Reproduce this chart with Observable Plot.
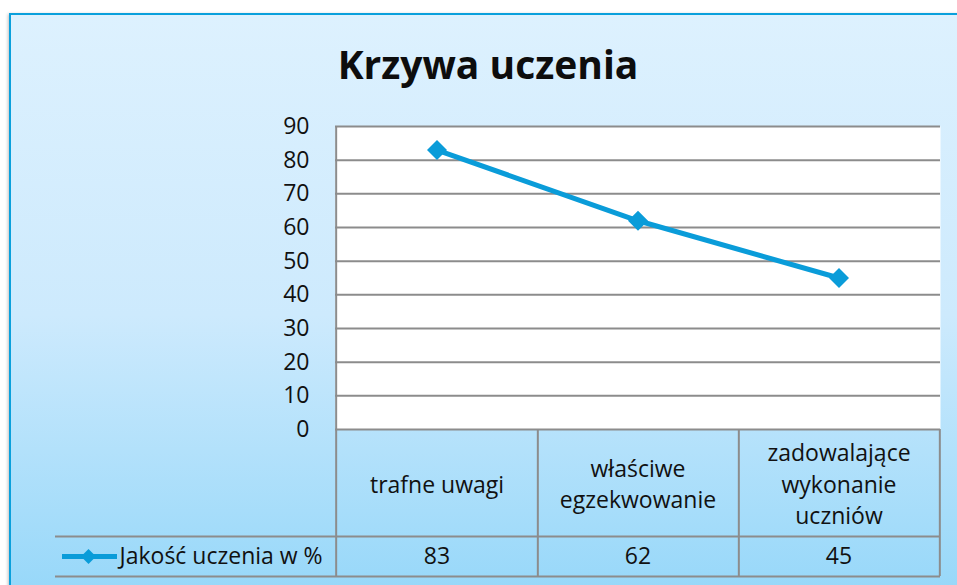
<!DOCTYPE html>
<html>
<head>
<meta charset="utf-8">
<script src="https://cdn.jsdelivr.net/npm/d3@7"></script>
<script src="https://cdn.jsdelivr.net/npm/@observablehq/plot@0.6"></script>
<style>
  html, body { margin: 0; padding: 0; background: #ffffff; }
  body { width: 957px; height: 585px; overflow: hidden; position: relative; font-family: "Open Sans", sans-serif; }
  #frame { position: absolute; left: 9px; top: 13px; width: 1000px; height: 640px; box-sizing: border-box;
    border: 2px solid #0aa0dc; background: linear-gradient(to bottom, #ddf1fe 0px, #cdeafd 300px, #98d8f9 572px);
    box-shadow: -1px 1px 3px rgba(0,0,0,0.25); }
  #title { position: absolute; left: 488px; top: 38px; transform: translateX(-50%); white-space: nowrap;
    font-family: "Open Sans", sans-serif; font-weight: 700; font-size: 39px; color: #0d0d0d; line-height: 52px; }
  #chart { position: absolute; left: 0; top: 0; }
</style>
</head>
<body>
<div id="frame"></div>
<div id="title">Krzywa uczenia</div>
<div id="chart"></div>
<script>
// ---- data ----
const categories = ["trafne uwagi", "właściwe egzekwowanie", "zadowalające wykonanie uczniów"];
const categoryLabels = ["trafne uwagi", "właściwe\negzekwowanie", "zadowalające\nwykonanie\nuczniów"];
const values = [83, 62, 45];
const seriesName = "Jakość uczenia w %";
const yTicks = [0, 10, 20, 30, 40, 50, 60, 70, 80, 90];

// ---- layout ----
const W = 957, H = 585;
const mTop = 126, mBottom = H - 429, mLeft = 335, mRight = W - 940;
const yRange = [H - mBottom, mTop];
const yS = d3.scaleLinear().domain([0, 90]).range(yRange);
const yRowTop = yS.invert(536);
const yRowBot = yS.invert(576);
const yRowMid = yS.invert(556);
const half = (W - mLeft - mRight) / categories.length / 2;
const blue = "#0a9cd9";
const gridColor = "#8c8c8c";
const fs = 23;
const labelOf = new Map(categories.map((c, i) => [c, categoryLabels[i]]));
const data = categories.map((c, i) => ({cat: c, value: values[i]}));

const diamond = {
  draw(ctx, size) {
    const r = Math.sqrt(size / Math.PI);
    ctx.moveTo(0, -r); ctx.lineTo(r, 0); ctx.lineTo(0, r); ctx.lineTo(-r, 0); ctx.closePath();
  }
};

const chart = Plot.plot({
  width: W, height: H,
  marginTop: mTop, marginBottom: mBottom, marginLeft: mLeft, marginRight: mRight,
  style: {background: "transparent", fontFamily: "'Open Sans', sans-serif", fontSize: fs + "px", color: "#111"},
  x: {type: "band", domain: categories, padding: 0, axis: null},
  y: {domain: [0, 90], range: yRange, axis: null},
  marks: [
    Plot.frame({fill: "white", stroke: null}),
    Plot.ruleY(yTicks, {stroke: gridColor, strokeWidth: 2}),
    // axis tick labels
    Plot.axisY({ticks: yTicks, tickSize: 0, tickPadding: 26, fontSize: fs, fill: "#111", textAnchor: "end", label: null}),
    Plot.axisX({tickSize: 0, tickPadding: 53, lineAnchor: "middle", lineHeight: 1.37, fontSize: fs, fill: "#111",
      tickFormat: d => labelOf.get(d), label: null}),
    // table borders
    Plot.ruleX([categories[0]], {x: d => d, dx: -half, y1: 90, y2: yRowBot, stroke: gridColor, strokeWidth: 2}),
    Plot.ruleX(categories, {x: d => d, dx: half, y1: 0, y2: yRowBot, stroke: gridColor, strokeWidth: 2}),
    Plot.ruleY([yRowTop, yRowBot], {y: d => d, insetLeft: -280, stroke: gridColor, strokeWidth: 2}),
    Plot.ruleX([0], {frameAnchor: "left", dx: -280, y1: yRowTop, y2: yRowBot, stroke: gridColor, strokeWidth: 2}),
    // values row
    Plot.text(data, {x: "cat", y: () => yRowMid, text: d => String(d.value), fontSize: fs, fill: "#111"}),
    // legend key
    Plot.ruleY([yRowMid], {y: d => d, insetLeft: -273, insetRight: 823, stroke: blue, strokeWidth: 5}),
    Plot.dot([yRowMid], {y: d => d, frameAnchor: "left", dx: -247, symbol: diamond, r: 7.5, fill: blue, stroke: null}),
    Plot.text([seriesName], {y: () => yRowMid, frameAnchor: "left", dx: -216, textAnchor: "start", text: d => d, fontSize: fs, fill: "#111"}),
    // series
    Plot.line(data, {x: "cat", y: "value", stroke: blue, strokeWidth: 5}),
    Plot.dot(data, {x: "cat", y: "value", symbol: diamond, r: 10, fill: blue, stroke: null})
  ]
});
document.getElementById("chart").appendChild(chart);
</script>
</body>
</html>
